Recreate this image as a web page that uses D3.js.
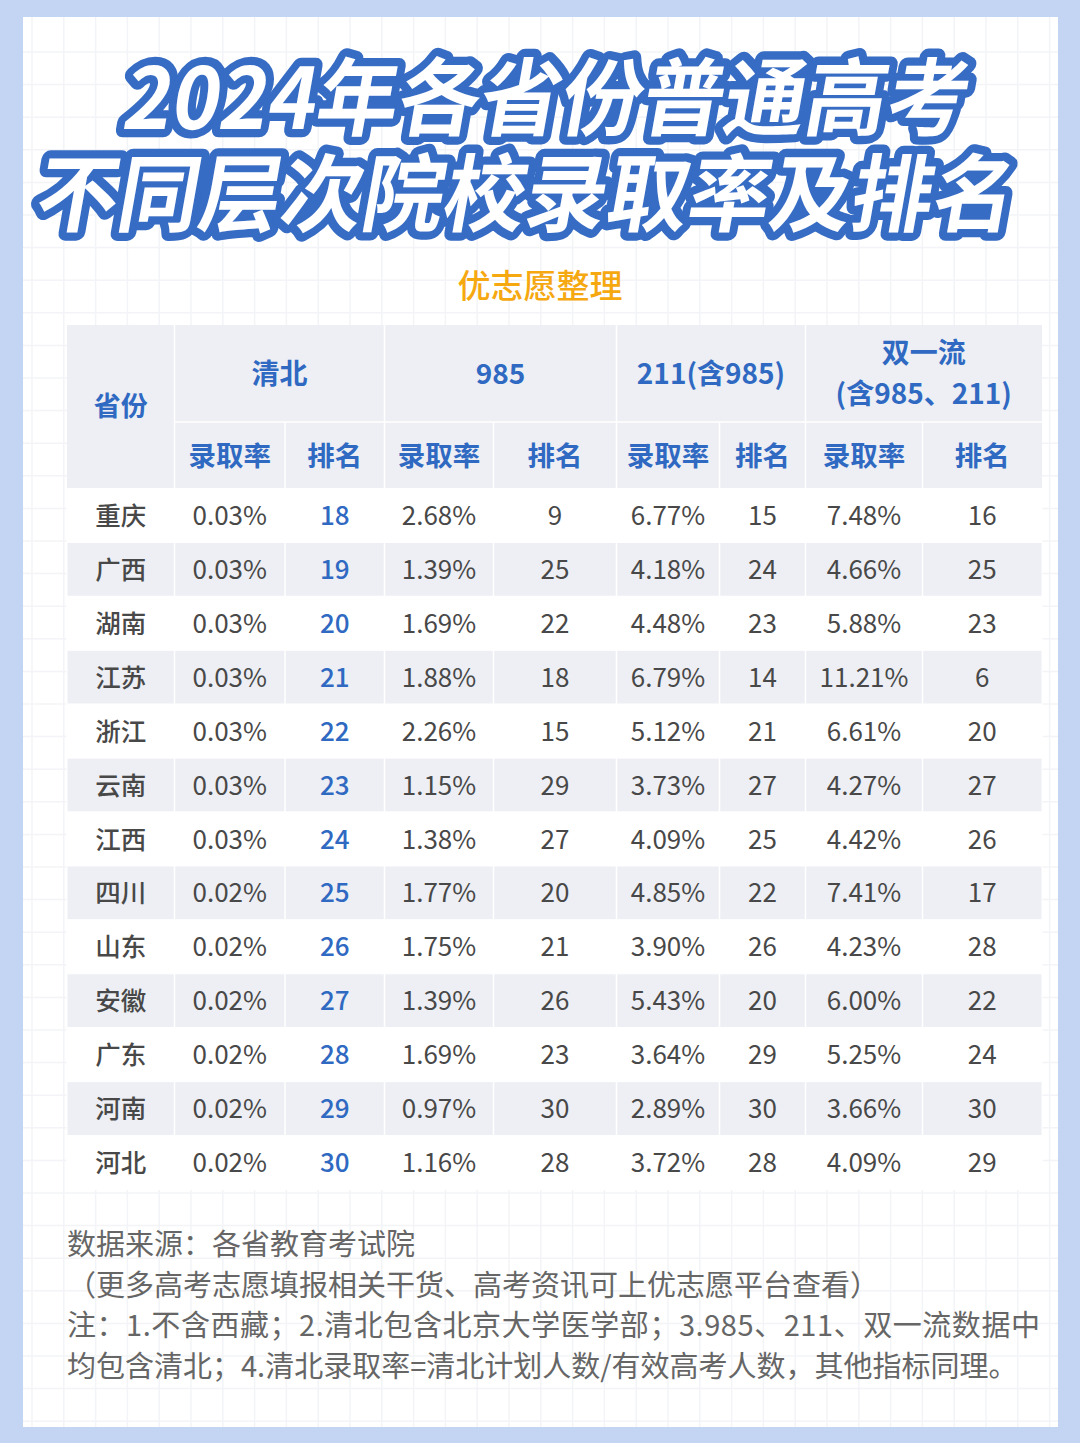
<!DOCTYPE html>
<html>
<head>
<meta charset="utf-8">
<script src="https://cdn.jsdelivr.net/npm/d3@7"></script>
<style>
  html, body { margin: 0; padding: 0; background: #c3d5f2; }
  svg { display: block; }
  text { font-family: "Noto Sans CJK SC", sans-serif; }
</style>
</head>
<body>
<div id="chart"></div>
<script>
const width = 1080, height = 1443;

const titleLines = ["2024年各省份普通高考", "不同层次院校录取率及排名"];
const subtitle = "优志愿整理";
// full-width punctuation written as escapes so it stays full-width
const footLines = [
  "数据来源\uFF1A各省教育考试院",
  "\uFF08更多高考志愿填报相关干货、高考资讯可上优志愿平台查看\uFF09",
  "注\uFF1A1.不含西藏\uFF1B2.清北包含北京大学医学部\uFF1B3.985、211、双一流数据中",
  "均包含清北\uFF1B4.清北录取率=清北计划人数/有效高考人数\uFF0C其他指标同理。"
];

const provinces = ["重庆", "广西", "湖南", "江苏", "浙江", "云南", "江西", "四川", "山东", "安徽", "广东", "河南", "河北"];
const qbRate = [0.03, 0.03, 0.03, 0.03, 0.03, 0.03, 0.03, 0.02, 0.02, 0.02, 0.02, 0.02, 0.02];
const qbRank = [18, 19, 20, 21, 22, 23, 24, 25, 26, 27, 28, 29, 30];
const rate985 = [2.68, 1.39, 1.69, 1.88, 2.26, 1.15, 1.38, 1.77, 1.75, 1.39, 1.69, 0.97, 1.16];
const rank985 = [9, 25, 22, 18, 15, 29, 27, 20, 21, 26, 23, 30, 28];
const rate211 = [6.77, 4.18, 4.48, 6.79, 5.12, 3.73, 4.09, 4.85, 3.90, 5.43, 3.64, 2.89, 3.72];
const rank211 = [15, 24, 23, 14, 21, 27, 25, 22, 26, 20, 29, 30, 28];
const rateSyl = [7.48, 4.66, 5.88, 11.21, 6.61, 4.27, 4.42, 7.41, 4.23, 6.00, 5.25, 3.66, 4.09];
const rankSyl = [16, 25, 23, 6, 20, 27, 26, 17, 28, 22, 24, 30, 29];

const groupNames = [["清北"], ["985"], ["211(含985)"], ["双一流", "(含985、211)"]];
const subNames = ["录取率", "排名"];

// column edges
const edges = [67, 174.5, 285, 384.5, 493.5, 616.5, 719.5, 805.5, 922.5, 1042];
const colCenter = i => (edges[i] + edges[i + 1]) / 2;

const blue = "#2f69c2", grey = "#edeff4", ink = "#484848";

const svg = d3.select("#chart").append("svg")
  .attr("width", width)
  .attr("height", height)
  .attr("viewBox", [0, 0, width, height]);

svg.append("rect").attr("width", width).attr("height", height).attr("fill", "#c3d5f2");
svg.append("rect").attr("x", 23).attr("y", 17).attr("width", 1035).attr("height", 1410).attr("fill", "#fff");

// faint paper grid
const grid = svg.append("g").attr("stroke", "#f3f4f7").attr("stroke-width", 1.5);
grid.selectAll(".v").data(d3.range(32, 1058, 31.8)).join("line").attr("class", "v")
  .attr("x1", d => d).attr("x2", d => d).attr("y1", 17).attr("y2", 1427);
grid.selectAll(".h").data(d3.range(52, 1427, 32.6)).join("line").attr("class", "h")
  .attr("x1", 23).attr("x2", 1058).attr("y1", d => d).attr("y2", d => d);

// title
const titles = svg.append("g");
const titleSpec = [
  { cx: 549, cy: 92, size: 81.5 },
  { cx: 528, cy: 188, size: 81.5 }
];
const titleTransform = (d, i) => `translate(${titleSpec[i].cx},${titleSpec[i].cy}) skewX(-10) scale(1,1.04)`;
titles.selectAll("text.outline").data(titleLines).join("text")
  .attr("class", "outline")
  .attr("transform", titleTransform)
  .attr("text-anchor", "middle").attr("dominant-baseline", "central")
  .attr("font-size", (d, i) => titleSpec[i].size).attr("font-weight", 700)
  .attr("fill", "#366cc4").attr("stroke", "#366cc4").attr("stroke-width", 16).attr("stroke-linejoin", "round")
  .text(d => d);
titles.selectAll("text.face").data(titleLines).join("text")
  .attr("class", "face")
  .attr("transform", titleTransform)
  .attr("text-anchor", "middle").attr("dominant-baseline", "central")
  .attr("font-size", (d, i) => titleSpec[i].size).attr("font-weight", 700)
  .attr("fill", "#fff")
  .text(d => d);

svg.append("text")
  .attr("x", 540).attr("y", 283.5)
  .attr("text-anchor", "middle").attr("dominant-baseline", "central")
  .attr("font-size", 33).attr("font-weight", 500).attr("fill", "#f5a810")
  .text(subtitle);

// rows
const y = d3.scaleBand().domain(provinces).range([488.5, 1189.5]);

const table = svg.append("g");

function cell(x0, x1, y0, y1, fill) {
  table.append("rect").attr("x", x0).attr("y", y0)
    .attr("width", x1 - x0).attr("height", y1 - y0).attr("fill", fill);
}

// header background
cell(edges[0], edges[9], 325, 488.5, grey);

// body stripes
table.selectAll("rect.row").data(provinces).join("rect")
  .attr("class", "row")
  .attr("x", edges[0]).attr("width", edges[9] - edges[0])
  .attr("y", d => y(d)).attr("height", y.bandwidth())
  .attr("fill", (d, i) => i % 2 ? grey : "#fff")
  .attr("stroke", "#fff").attr("stroke-width", 1);

// column separators
const sep = table.append("g").attr("stroke", "#fff").attr("stroke-width", 1.5);
sep.selectAll("line").data(edges.slice(1, 9)).join("line")
  .attr("x1", d => d).attr("x2", d => d)
  .attr("y1", (d, i) => (i % 2 === 0 ? 325 : 422)).attr("y2", 1189);
sep.append("line").attr("x1", edges[1]).attr("x2", edges[9]).attr("y1", 422).attr("y2", 422);

function label(x, yy, s, size, weight, fill) {
  table.append("text").attr("x", x).attr("y", yy)
    .attr("text-anchor", "middle").attr("dominant-baseline", "central")
    .attr("font-size", size).attr("font-weight", weight).attr("fill", fill)
    .text(s);
}

// header text
label(colCenter(0), 404.5, "省份", 27, 700, blue);
groupNames.forEach((lines, g) => {
  const cx = (edges[1 + g * 2] + edges[3 + g * 2]) / 2;
  if (lines.length === 1) label(cx, 371.5, lines[0], 28, 700, blue);
  else lines.forEach((s, i) => label(cx, 350.5 + i * 41, s, 28, 700, blue));
});
d3.range(8).forEach(i => label(colCenter(i + 1), 453.5, subNames[i % 2], 27.5, 700, blue));

// body text
const pct = d => d3.format(".2f")(d) + "%";
const columns = [qbRate, qbRank, rate985, rank985, rate211, rank211, rateSyl, rankSyl];
provinces.forEach((p, r) => {
  const cy = y(p) + y.bandwidth() / 2 - 2;
  label(colCenter(0), cy, p, 25.5, 500, ink);
  columns.forEach((col, c) => {
    const isRate = c % 2 === 0;
    label(colCenter(c + 1), cy, isRate ? pct(col[r]) : col[r], 26, c === 1 ? 500 : 400, c === 1 ? blue : ink);
  });
});

// footnote; the third line runs a little wider in the original
const footSpacing = [0, 0, 0.55, 0];
svg.append("g").selectAll("text").data(footLines).join("text")
  .attr("x", 67).attr("y", (d, i) => 1242 + i * 40.6)
  .attr("dominant-baseline", "central")
  .attr("font-size", 29).attr("fill", "#666")
  .attr("letter-spacing", (d, i) => footSpacing[i])
  .text(d => d);
</script>
</body>
</html>
